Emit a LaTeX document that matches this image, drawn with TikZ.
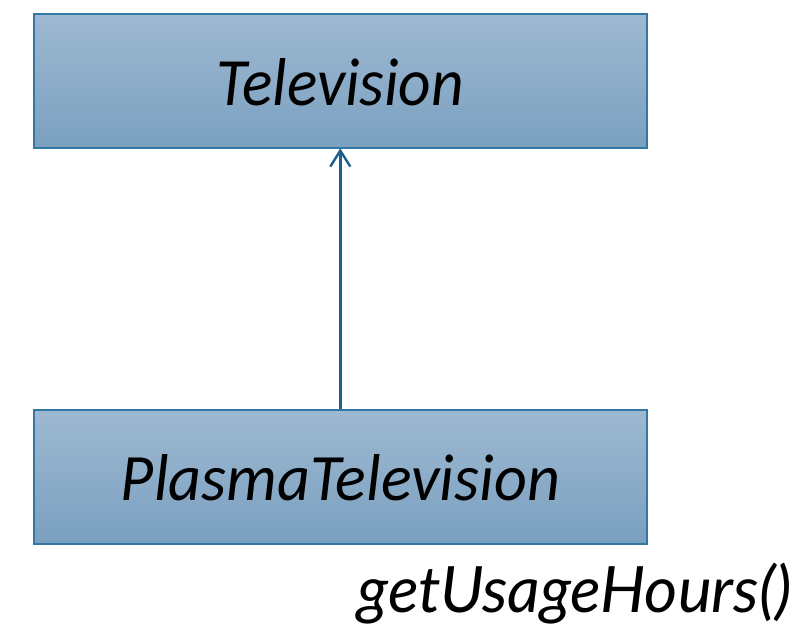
\documentclass[tikz,border=0pt]{standalone}
\usepackage{fontspec}
\usepackage{graphicx}
\newfontfamily\boxfont{Carlito}
\newfontfamily\opfont{Lato}
\definecolor{boxtop}{RGB}{158,185,209}
\definecolor{boxbot}{RGB}{122,160,192}
\definecolor{boxedge}{RGB}{50,120,165}
\definecolor{linkcol}{RGB}{28,96,142}
\tikzset{
  classbox/.style={draw=boxedge, line width=1.6pt, top color=boxtop, bottom color=boxbot,
    minimum width=613pt, minimum height=134pt, inner sep=0pt, anchor=north west},
  classname/.style={inner sep=0pt, anchor=base},
  inherit/.style={draw=linkcol, line width=2.4pt},
  openhead/.style={draw=linkcol, line width=2.4pt, line join=miter}
}
\begin{document}
\begin{tikzpicture}[x=1pt,y=-1pt]
  \useasboundingbox (0,0) rectangle (803,635);
  \node[classbox] (tv) at (33,13) {};
  \node[classbox] (ptv) at (33,409) {};
  \node[classname] (tvname) at (340.5,105)
    {\resizebox{247pt}{47pt}{\boxfont\itshape Television}};
  \node[classname] (ptvname) at (340.5,500)
    {\resizebox{439pt}{46pt}{\boxfont\itshape PlasmaTelevision}};
  % generalisation link with an open arrow head at the parent
  \coordinate (tip) at ([yshift=-2pt]tv.south);
  \draw[inherit] (ptv.north) -- (tip);
  \draw[openhead] ([xshift=-10pt,yshift=-16pt]tip) -- (tip) -- ([xshift=10pt,yshift=-16pt]tip);
  \node[classname] (op) at (575,612)
    {\resizebox{434pt}{!}{\opfont\itshape getUsageHours()}};
\end{tikzpicture}
\end{document}
